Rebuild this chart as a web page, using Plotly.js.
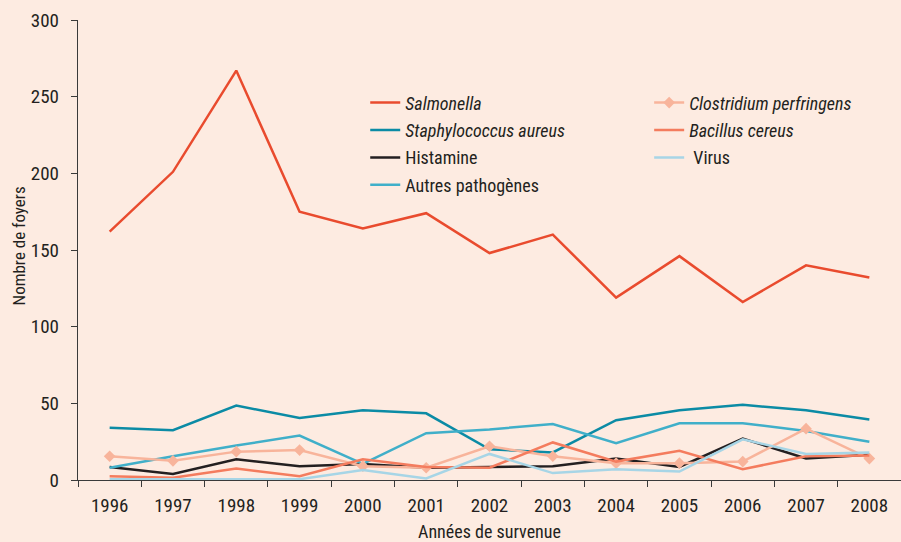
<!DOCTYPE html>
<html>
<head>
<meta charset="utf-8">
<script src="https://cdn.plot.ly/plotly-3.0.1.min.js"></script>
<style>html,body{margin:0;padding:0;background:#fdebe1;}#chart{width:901px;height:542px;}</style>
</head>
<body>
<div id="chart"></div>
<script>
var years = ["1996","1997","1998","1999","2000","2001","2002","2003","2004","2005","2006","2007","2008"];
var salmonella = [162, 201, 267, 175, 164, 174, 148, 160, 119, 146, 116, 140, 132];
var staphylococcus = [34, 32.5, 48.5, 40.5, 45.5, 43.5, 20, 18, 39, 45.5, 49, 45.5, 39.5];
var histamine = [8.5, 4, 13.5, 9, 10.5, 8, 8.5, 9, 14, 8.5, 27, 14, 16.5];
var autres = [8, 15.5, 22.5, 29, 10.5, 30.5, 33, 36.5, 24, 37, 37, 32, 25];
var clostridium = [15.5, 12.5, 18.5, 19.5, 9, 8, 22, 15.5, 11, 11, 12, 33.5, 14];
var bacillus = [2.5, 1.5, 7.5, 2.5, 13.5, 8.5, 8, 24.5, 12, 19, 7, 15.5, 16];
var virus = [0.5, 0.5, 0.5, 0.5, 6.5, 1, 17, 4.5, 7, 5.5, 26.5, 17, 18];
var yTicks = [0, 50, 100, 150, 200, 250, 300];

var FONT = "'Liberation Sans Narrow', 'Roboto Condensed', 'Arial Narrow', 'Liberation Sans', sans-serif";

function tr(name, y, color, legend, group, extra) {
  var t = {
    x: years, y: y, type: 'scatter', mode: 'lines', name: name,
    line: {color: color, width: 2.5},
    legend: legend, legendgroup: group
  };
  if (extra) { for (var k in extra) t[k] = extra[k]; }
  return t;
}

var data = [
  tr('<i>Salmonella</i>', salmonella, '#e94b2e', 'legend', 'a'),
  tr('<i>Staphylococcus aureus</i>', staphylococcus, '#0b8ba5', 'legend', 'b'),
  tr('Histamine', histamine, '#231f20', 'legend', 'c'),
  tr('Autres pathogènes', autres, '#40afc9', 'legend', 'd'),
  tr('<i>Clostridium perfringens</i>', clostridium, '#f8b49b', 'legend2', 'e',
     {mode: 'lines+markers', marker: {symbol: 'diamond', size: 9, color: '#f8b49b'}}),
  tr('<i>Bacillus cereus</i>', bacillus, '#f47c5e', 'legend2', 'f'),
  tr(' Virus', virus, '#a7d5e6', 'legend2', 'g')
];

var legendCommon = {
  bgcolor: 'rgba(0,0,0,0)', borderwidth: 0,
  font: {family: FONT, size: 18, color: '#231f20'},
  yanchor: 'top', xanchor: 'left', tracegroupgap: 1
};

var layout = {
  width: 901, height: 542,
  paper_bgcolor: '#fdebe1', plot_bgcolor: '#fdebe1',
  margin: {l: 78, r: 0, t: 20, b: 62},
  font: {family: FONT, size: 18, color: '#231f20'},
  showlegend: true,
  xaxis: {
    type: 'category', range: [-0.5, 12.5],
    tickson: 'boundaries', ticks: 'outside', ticklen: 6, tickcolor: '#3a3a3a',
    showline: true, linecolor: '#3a3a3a', linewidth: 1.2,
    showgrid: false, zeroline: false,
    ticklabelstandoff: 8,
    tickfont: {family: FONT, size: 19, color: '#231f20'},
    title: {text: 'Années de survenue', font: {family: FONT, size: 18, color: '#231f20'}, standoff: 12}
  },
  yaxis: {
    range: [0, 300], tickvals: yTicks, ticks: 'outside', ticklen: 6, tickcolor: '#3a3a3a',
    showline: true, linecolor: '#3a3a3a', linewidth: 1.2,
    showgrid: false, zeroline: false,
    ticklabelstandoff: 8,
    tickfont: {family: FONT, size: 19, color: '#231f20'}
  },
  annotations: [{
    text: 'Nombre de foyers', textangle: -90, showarrow: false,
    xref: 'paper', yref: 'paper', x: -0.0717, y: 0.51, xanchor: 'center', yanchor: 'middle',
    font: {family: FONT, size: 17, color: '#231f20'}
  }],
  legend: Object.assign({x: 0.349, y: 0.86}, legendCommon),
  legend2: Object.assign({x: 0.694, y: 0.86}, legendCommon)
};

Plotly.newPlot('chart', data, layout, {displayModeBar: false, staticPlot: true});
</script>
</body>
</html>
